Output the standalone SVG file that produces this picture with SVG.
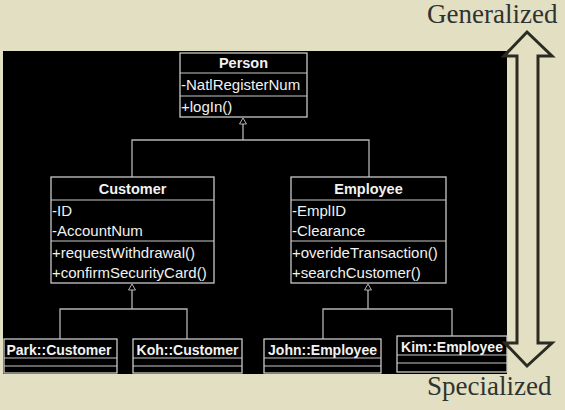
<svg xmlns="http://www.w3.org/2000/svg" width="565" height="410" viewBox="0 0 565 410">
<style>
.box{fill:#000;stroke:#c8c8c8;stroke-width:1.3}
.ln{stroke:#c8c8c8;stroke-width:1.2;fill:none}
.con{stroke:#b4b4b4;stroke-width:1.3;fill:none}
.tri{fill:#000;stroke:#b4b4b4;stroke-width:1}
.h{font-family:"Liberation Sans",Arial,sans-serif;font-weight:bold;font-size:14.5px;fill:#f2f2f2;text-anchor:middle}
.hs{font-size:14px}
.t{font-family:"Liberation Sans",Arial,sans-serif;font-size:15px;fill:#f2f2f2}
.lbl{font-family:"Liberation Serif","Times New Roman",serif;font-size:27px;fill:#2f3330}
</style>
<rect width="565" height="410" fill="#e3dfc2"/>
<rect x="3" y="51" width="504" height="323" fill="#000"/>

<g id="connectors">
<polyline class="con" points="243,124 243,140"/>
<polyline class="con" points="132,177 132,140 369,140 369,177"/>
<polygon class="tri" points="243,118 239.5,124 246.5,124"/>
<polyline class="con" points="132,290 132,309"/>
<polyline class="con" points="60,339 60,309 187,309 187,339"/>
<polygon class="tri" points="132,284 128.5,290 135.5,290"/>
<polyline class="con" points="368,290 368,309"/>
<polyline class="con" points="323,339 323,309 452,309 452,336"/>
<polygon class="tri" points="368,284 364.5,290 371.5,290"/>
</g>

<g id="person">
<rect class="box" x="180" y="53" width="127" height="64"/>
<line class="ln" x1="180" y1="73" x2="307" y2="73"/>
<line class="ln" x1="180" y1="96" x2="307" y2="96"/>
<text class="h" x="243.5" y="68">Person</text>
<text class="t" x="181" y="90">-NatlRegisterNum</text>
<text class="t" x="181" y="112">+logIn()</text>
</g>

<g id="customer">
<rect class="box" x="51" y="177" width="163" height="106"/>
<line class="ln" x1="51" y1="200" x2="214" y2="200"/>
<line class="ln" x1="51" y1="241" x2="214" y2="241"/>
<text class="h" x="132.5" y="194">Customer</text>
<text class="t" x="52" y="216">-ID</text>
<text class="t" x="52" y="236">-AccountNum</text>
<text class="t" x="52" y="258">+requestWithdrawal()</text>
<text class="t" x="52" y="278">+confirmSecurityCard()</text>
</g>

<g id="employee">
<rect class="box" x="291" y="177" width="155" height="106"/>
<line class="ln" x1="291" y1="200" x2="446" y2="200"/>
<line class="ln" x1="291" y1="241" x2="446" y2="241"/>
<text class="h" x="368.5" y="194">Employee</text>
<text class="t" x="292" y="216">-EmplID</text>
<text class="t" x="292" y="236">-Clearance</text>
<text class="t" x="292" y="258">+overideTransaction()</text>
<text class="t" x="292" y="278">+searchCustomer()</text>
</g>

<g id="park">
<rect class="box" x="4" y="339" width="113" height="34"/>
<line class="ln" x1="4" y1="358" x2="117" y2="358"/>
<line class="ln" x1="4" y1="366" x2="117" y2="366"/>
<text class="h hs" x="59" y="355">Park::Customer</text>
</g>

<g id="koh">
<rect class="box" x="133" y="339" width="109" height="34"/>
<line class="ln" x1="133" y1="358" x2="242" y2="358"/>
<line class="ln" x1="133" y1="366" x2="242" y2="366"/>
<text class="h hs" x="187.5" y="355">Koh::Customer</text>
</g>

<g id="john">
<rect class="box" x="264" y="339" width="117" height="34"/>
<line class="ln" x1="264" y1="358" x2="381" y2="358"/>
<line class="ln" x1="264" y1="366" x2="381" y2="366"/>
<text class="h hs" x="322.5" y="355">John::Employee</text>
</g>

<g id="kim">
<rect class="box" x="397" y="336" width="110" height="36"/>
<line class="ln" x1="397" y1="355" x2="507" y2="355"/>
<line class="ln" x1="397" y1="363" x2="507" y2="363"/>
<text class="h hs" x="452" y="352">Kim::Employee</text>
</g>

<polygon points="527,32 552,56 538,56 538,343 552,343 527,366 505,343 517,343 517,56 504,56" fill="none" stroke="#2b2b22" stroke-width="3" stroke-linejoin="miter"/>
<text class="lbl" x="427" y="23">Generalized</text>
<text class="lbl" x="427" y="395">Specialized</text>
</svg>
